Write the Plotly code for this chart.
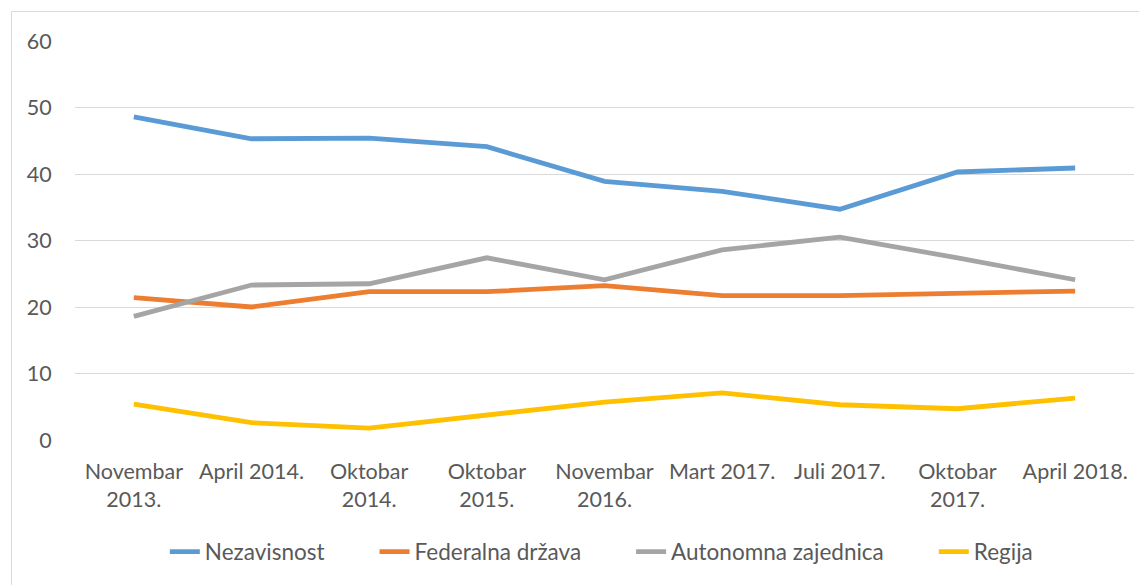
import plotly.graph_objects as go

categories = ["Novembar<br>2013.", "April 2014.", "Oktobar<br>2014.", "Oktobar<br>2015.",
              "Novembar<br>2016.", "Mart 2017.", "Juli 2017.", "Oktobar<br>2017.", "April 2018."]
nezavisnost = [48.6, 45.3, 45.4, 44.1, 38.9, 37.4, 34.7, 40.3, 40.9]
federalna = [21.4, 20.0, 22.3, 22.3, 23.2, 21.7, 21.7, 22.0, 22.4]
autonomna = [18.6, 23.3, 23.5, 27.4, 24.1, 28.6, 30.5, 27.4, 24.1]
regija = [5.4, 2.6, 1.8, 3.8, 5.7, 7.1, 5.3, 4.7, 6.3]
y_ticks = [0, 10, 20, 30, 40, 50, 60]

SP = "\u2002"
series = [
    ("Nezavisnost" + SP * 4, nezavisnost, "#5B9BD5"),
    ("Federalna država" + SP * 4, federalna, "#ED7D31"),
    ("Autonomna zajednica" + SP * 4, autonomna, "#A5A5A5"),
    ("Regija", regija, "#FFC000"),
]

FONT = "Lato"
TXT = "#595959"
FS = 21.5

fig = go.Figure()
for name, vals, col in series:
    fig.add_trace(go.Scatter(x=categories, y=vals, name=name, mode="lines",
                             line=dict(color=col, width=4.8)))

# page body adds an 8px offset; compensate
OFF = 8
W, H = 1147 - OFF, 585 - OFF
plot_l, plot_r, plot_t, plot_b = 75 - OFF, 1134 - OFF, 41 - OFF, 440 - OFF
pw, ph = plot_r - plot_l, plot_b - plot_t

fig.update_layout(
    width=W, height=H,
    margin=dict(l=plot_l, r=W - plot_r, t=plot_t, b=H - plot_b, autoexpand=False),
    paper_bgcolor="white", plot_bgcolor="white",
    font=dict(family=FONT, size=FS, color=TXT),
    showlegend=True,
    legend=dict(orientation="h", x=0.497, xanchor="center",
                y=-(552 - 440) / ph, yanchor="middle",
                font=dict(family=FONT, size=22.5, color=TXT),
                tracegroupgap=0),
    xaxis=dict(type="category", range=[-0.5, 8.5], showgrid=False, zeroline=False,
               showline=False, ticks="outside", ticklen=12, tickcolor="rgba(0,0,0,0)",
               tickangle=0, tickfont=dict(family=FONT, size=FS, color=TXT)),
    yaxis=dict(range=[0, 60], tickvals=y_ticks, showgrid=True, gridcolor="#D9D9D9",
               gridwidth=1.3, zeroline=False, showline=False,
               ticks="outside", ticklen=18, tickcolor="rgba(0,0,0,0)",
               tickfont=dict(family=FONT, size=FS, color=TXT)),
    shapes=[dict(type="rect", xref="paper", yref="paper",
                 x0=(11.5 - 75) / pw, x1=(1180 - 75) / pw,
                 y0=-(620 - 440) / ph, y1=1 + (41 - 11.5) / ph,
                 line=dict(color="#D9D9D9", width=1), layer="below")],
)

fig.write_html("out.html")
